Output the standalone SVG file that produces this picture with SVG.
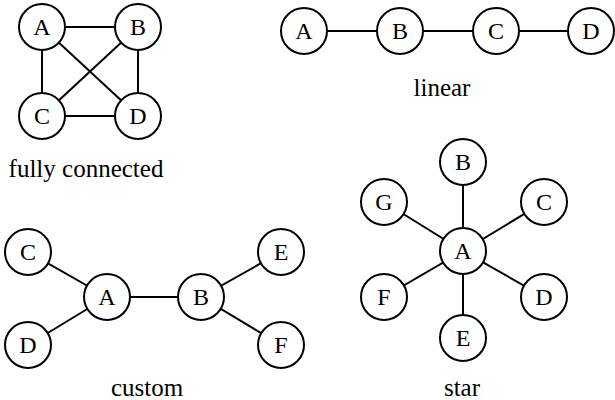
<svg xmlns="http://www.w3.org/2000/svg" width="615" height="400" viewBox="0 0 615 400">
<rect width="615" height="400" fill="#fff"/>
<g id="connectors" stroke="#000" stroke-width="2" fill="none">
<line x1="42" y1="27" x2="138" y2="27"/>
<line x1="42" y1="27" x2="42" y2="116"/>
<line x1="42" y1="27" x2="138" y2="116"/>
<line x1="138" y1="27" x2="42" y2="116"/>
<line x1="138" y1="27" x2="138" y2="116"/>
<line x1="42" y1="116" x2="138" y2="116"/>
<line x1="304" y1="31" x2="591" y2="31"/>
<line x1="28" y1="252" x2="107" y2="297"/>
<line x1="28" y1="345" x2="107" y2="297"/>
<line x1="107" y1="297" x2="201" y2="297"/>
<line x1="201" y1="297" x2="281" y2="252"/>
<line x1="201" y1="297" x2="281" y2="345"/>
<line x1="463" y1="251" x2="463" y2="162"/>
<line x1="463" y1="251" x2="463" y2="338"/>
<line x1="463" y1="251" x2="384" y2="202"/>
<line x1="463" y1="251" x2="544" y2="202"/>
<line x1="463" y1="251" x2="384" y2="297"/>
<line x1="463" y1="251" x2="544" y2="297"/>
</g>
<g id="nodes" font-family="Liberation Serif" font-size="24" text-anchor="middle">
<g fill="#fff" stroke="#000" stroke-width="2">
<circle cx="42" cy="27" r="23"/><circle cx="138" cy="27" r="23"/><circle cx="42" cy="116" r="23"/><circle cx="138" cy="116" r="23"/>
<circle cx="304" cy="31" r="23"/><circle cx="400" cy="31" r="23"/><circle cx="496" cy="31" r="23"/><circle cx="591" cy="31" r="23"/>
<circle cx="28" cy="252" r="23"/><circle cx="28" cy="345" r="23"/><circle cx="107" cy="297" r="23"/><circle cx="201" cy="297" r="23"/><circle cx="281" cy="252" r="23"/><circle cx="281" cy="345" r="23"/>
<circle cx="463" cy="251" r="23"/><circle cx="463" cy="162" r="23"/><circle cx="544" cy="202" r="23"/><circle cx="544" cy="297" r="23"/><circle cx="463" cy="338" r="23"/><circle cx="384" cy="297" r="23"/><circle cx="384" cy="202" r="23"/>
</g>
<g id="fc-A"><text x="42" y="35">A</text></g>
<g id="fc-B"><text x="138" y="35">B</text></g>
<g id="fc-C"><text x="42" y="124">C</text></g>
<g id="fc-D"><text x="138" y="124">D</text></g>
<g id="lin-A"><text x="304" y="39">A</text></g>
<g id="lin-B"><text x="400" y="39">B</text></g>
<g id="lin-C"><text x="496" y="39">C</text></g>
<g id="lin-D"><text x="591" y="39">D</text></g>
<g id="cu-C"><text x="28" y="260">C</text></g>
<g id="cu-D"><text x="28" y="353">D</text></g>
<g id="cu-A"><text x="107" y="305">A</text></g>
<g id="cu-B"><text x="201" y="305">B</text></g>
<g id="cu-E"><text x="281" y="260">E</text></g>
<g id="cu-F"><text x="281" y="353">F</text></g>
<g id="st-A"><text x="463" y="259">A</text></g>
<g id="st-B"><text x="463" y="170">B</text></g>
<g id="st-C"><text x="544" y="210">C</text></g>
<g id="st-D"><text x="544" y="305">D</text></g>
<g id="st-E"><text x="463" y="346">E</text></g>
<g id="st-F"><text x="384" y="305">F</text></g>
<g id="st-G"><text x="384" y="210">G</text></g>
<g id="labels" font-size="25">
<text x="86" y="177">fully connected</text>
<text x="442" y="96">linear</text>
<text x="147" y="396">custom</text>
<text x="462" y="396">star</text>
</g>
</g>
</svg>
